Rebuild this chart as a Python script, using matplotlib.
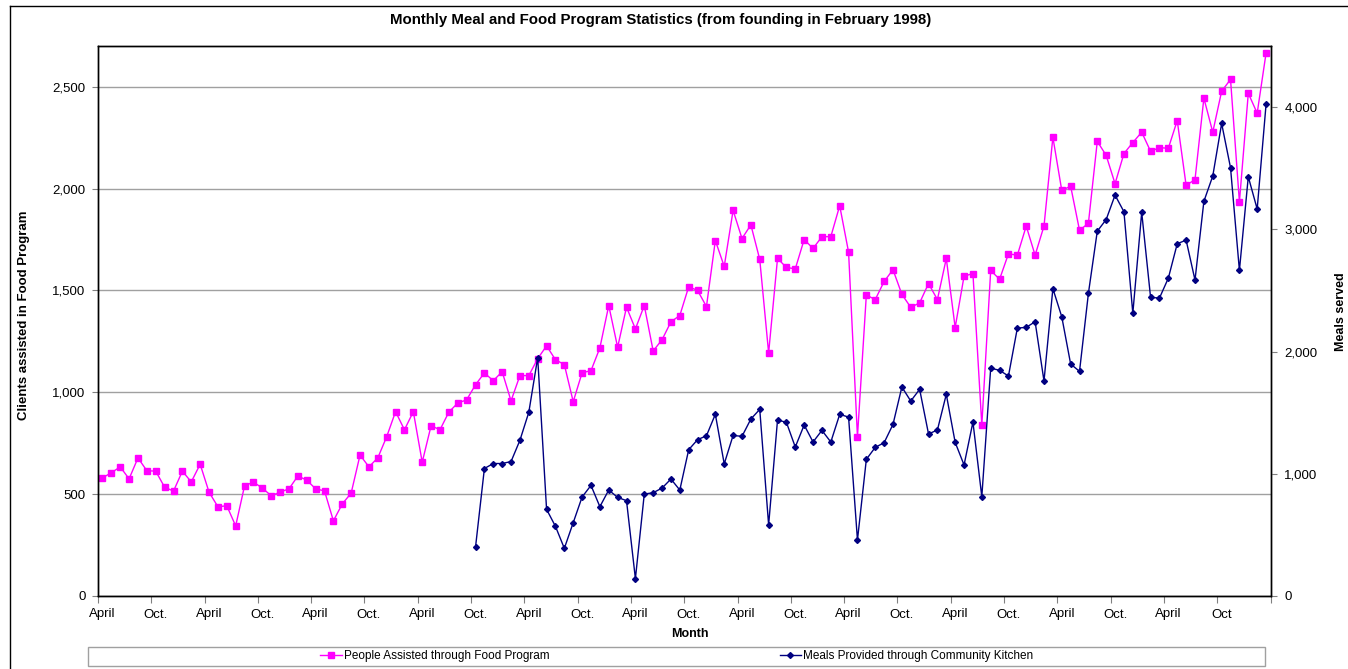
import numpy as np
import matplotlib.pyplot as plt
from matplotlib.lines import Line2D
from matplotlib.patches import Rectangle

plt.rcParams['font.family'] = ['Liberation Sans', 'DejaVu Sans']

# one point per month, April 1998 onwards
months = np.arange(1, 133)

people = [580, 605, 634, 575, 678, 615, 613, 534, 515, 613, 560, 647,
          510, 438, 443, 344, 541, 559, 530, 492, 510, 526, 589, 569,
          526, 516, 369, 452, 505, 692, 634, 678, 782, 905, 816, 905,
          657, 836, 816, 903, 947, 963, 1037, 1095, 1057, 1101, 958, 1082,
          1082, 1165, 1228, 1160, 1136, 954, 1096, 1106, 1218, 1426, 1221, 1418,
          1311, 1426, 1203, 1258, 1346, 1377, 1518, 1500, 1421, 1745, 1618, 1893,
          1755, 1822, 1652, 1193, 1657, 1613, 1606, 1750, 1706, 1764, 1764, 1916,
          1688, 782, 1478, 1455, 1544, 1602, 1481, 1417, 1439, 1534, 1455, 1657,
          1318, 1570, 1583, 839, 1598, 1555, 1680, 1673, 1816, 1673, 1816, 2252,
          1991, 2012, 1795, 1830, 2232, 2163, 2024, 2172, 2226, 2277, 2183, 2201,
          2198, 2334, 2016, 2044, 2444, 2277, 2478, 2536, 1934, 2468, 2370, 2665]

# community kitchen data starts in month 43 (October 2001)
meals_start = 43
meals = [399, 1043, 1084, 1084, 1100, 1274, 1503, 1950, 709, 570, 390, 600,
         810, 905, 731, 867, 807, 780, 142, 834, 845, 883, 957, 867,
         1197, 1279, 1311, 1487, 1081, 1314, 1306, 1448, 1527, 581, 1440, 1421,
         1219, 1399, 1260, 1355, 1260, 1486, 1464, 458, 1118, 1216, 1254, 1404,
         1710, 1595, 1691, 1326, 1358, 1650, 1257, 1072, 1423, 812, 1865, 1846,
         1800, 2192, 2198, 2244, 1759, 2515, 2285, 1898, 1838, 2476, 2985, 3080,
         3280, 3144, 2313, 3139, 2443, 2438, 2601, 2882, 2912, 2585, 3229, 3436,
         3866, 3504, 2664, 3430, 3166, 4022]

tick_labels = ["April", "Oct."] * 10 + ["April", "Oct"]

pink = '#ff00ff'
navy = '#000080'
grid_col = '#a0a0a0'

fig = plt.figure(figsize=(13.48, 6.69), dpi=100)
ax = fig.add_axes([98 / 1348, 1 - 596 / 669, (1270.5 - 98) / 1348, 550 / 669])
ax2 = ax.twinx()

ax.plot(months, people, color=pink, lw=1, marker='s', markersize=4.6,
        markeredgecolor=pink, markerfacecolor=pink)
ax2.plot(months[meals_start - 1:], meals, color=navy, lw=1, marker='D',
         markersize=3.0, markeredgecolor=navy, markerfacecolor=navy)

# left axis
ax.set_ylim(0, 2700)
ax.set_yticks(np.arange(0, 2501, 500))
ax.set_yticklabels([f"{v:,}" for v in range(0, 2501, 500)])
ax.yaxis.grid(True, color=grid_col, lw=1)
ax.set_axisbelow(True)
ax.tick_params(axis='y', length=4, color='#808080', labelsize=9.5, pad=5)

# right axis
ax2.set_ylim(0, 4500)
ax2.set_yticks(np.arange(0, 4001, 1000))
ax2.set_yticklabels([f"{v:,}" for v in range(0, 4001, 1000)])
ax2.tick_params(axis='y', length=4, color='#808080', labelsize=9.5, pad=6)

# x axis: ticks between categories, labels on the months
ax.set_xlim(0.5, 132.5)
ax.set_xticks(np.arange(0.5, 133, 6))
ax.set_xticklabels([])
ax.set_xticks(np.arange(1, 133, 6), minor=True)
ax.set_xticklabels(tick_labels, minor=True)
ax.tick_params(axis='x', which='major', length=5, color='#808080')
ax.tick_params(axis='x', which='minor', length=0, labelsize=9.5, pad=9)

for a in (ax, ax2):
    for s in a.spines.values():
        s.set_color('black')
        s.set_linewidth(1)

fig.text(661 / 1348, 1 - 20 / 669,
         "Monthly Meal and Food Program Statistics (from founding in February 1998)",
         ha='center', va='center', fontsize=10.8, fontweight='bold')
fig.text(24 / 1348, 1 - 315 / 669, "Clients assisted in Food Program",
         rotation=90, ha='center', va='center', fontsize=9.5, fontweight='bold')
fig.text(1347 / 1348, 1 - 312 / 669, "Meals served",
         rotation=90, ha='right', va='center', fontsize=9, fontweight='bold')
fig.text(690 / 1348, 1 - 634 / 669, "Month",
         ha='center', va='center', fontsize=9, fontweight='bold')

# legend
handles = [Line2D([], [], color=pink, lw=1, marker='s', markersize=4.6),
           Line2D([], [], color=navy, lw=1, marker='D', markersize=3.0)]
fig.legend(handles, ["People Assisted through Food Program",
                     "Meals Provided through Community Kitchen"],
           loc='center', bbox_to_anchor=(677 / 1348, 1 - 656 / 669), ncol=2,
           frameon=False, fontsize=8.5, columnspacing=19.5, handlelength=1.8,
           handletextpad=0.2)
fig.add_artist(Rectangle((88 / 1348, 1 - 666 / 669), (1265 - 88) / 1348, 19 / 669,
                         transform=fig.transFigure, fill=False,
                         edgecolor=grid_col, lw=1))

# chart area frame (cut off at right and bottom)
fig.add_artist(Line2D([10 / 1348, 10 / 1348], [0, 1 - 6 / 669],
                      transform=fig.transFigure, color='black', lw=1))
fig.add_artist(Line2D([10 / 1348, 1], [1 - 6 / 669, 1 - 6 / 669],
                      transform=fig.transFigure, color='black', lw=1))

fig.savefig("out.png", dpi=100)
